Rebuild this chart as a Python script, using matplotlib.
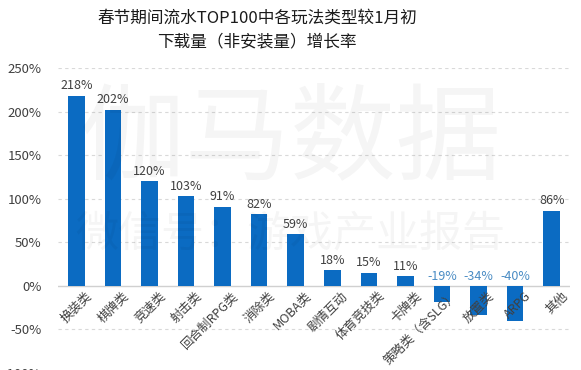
import matplotlib
matplotlib.use("Agg")
import matplotlib.pyplot as plt
import numpy as np

plt.rcParams['font.family'] = ['Noto Sans CJK SC', 'DejaVu Sans']

categories = ["换装类", "棋牌类", "竞速类", "射击类", "回合制RPG类", "消除类", "MOBA类",
              "剧情互动", "体育竞技类", "卡牌类", "策略类（含SLG）", "放置类", "ARPG", "其他"]
values = [218, 202, 120, 103, 91, 82, 59, 18, 15, 11, -19, -34, -40, 86]
yticks = [-100, -50, 0, 50, 100, 150, 200, 250]
title_lines = ["春节期间流水TOP100中各玩法类型较1月初", "下载量（非安装量）增长率"]

fig = plt.figure(figsize=(5.81, 3.70), dpi=100)
ax = fig.add_axes([58/581, 1-373/370, (570-58)/581, (373-68)/370])

n = len(categories)
x = np.arange(n)
bar_color = "#0B6BC2"
ax.bar(x, values, width=0.45, color=bar_color, zorder=3)

for xi, v in zip(x, values):
    if v >= 0:
        ax.text(xi, v + 4, f"{v}%", ha='center', va='bottom', fontsize=9, color="#404040", zorder=4)
    else:
        ax.text(xi, 3, f"{v}%", ha='center', va='bottom', fontsize=9, color="#4A8CC4", zorder=4)

# category labels placed just below zero line
for xi, c in zip(x, categories):
    ax.text(xi + 0.25, -4, c, rotation=45, ha='right', va='top', rotation_mode='anchor',
            fontsize=9, color="#404040", zorder=5)

ax.set_xlim(-0.5, n - 0.5)
ax.set_ylim(-100, 250)
ax.set_yticks(yticks)
ax.set_yticklabels([f"{t}%" for t in yticks], fontsize=9.5, color="#404040")
ax.tick_params(axis='y', length=0, pad=12)
ax.set_xticks([])

for t in yticks:
    if t != 0:
        ax.axhline(t, color="#d9d9d9", lw=0.8, ls=(0, (3, 3)), zorder=1)
ax.axhline(0, color="#d0d0d0", lw=1.0, zorder=2)

for s in ax.spines.values():
    s.set_visible(False)

# watermark
fig.text(0.5, 0.62, "伽马数据", fontsize=76, color="#000000", alpha=0.04,
         ha='center', va='center', zorder=0)
fig.text(0.5, 0.365, "微信号：游戏产业报告", fontsize=31, color="#000000", alpha=0.04,
         ha='center', va='center', zorder=0)

fig.text(257/581, 1 - 18/370, title_lines[0], ha='center', va='center', fontsize=12, color="#1a1a1a")
fig.text(257/581, 1 - 42/370, title_lines[1], ha='center', va='center', fontsize=12, color="#1a1a1a")

fig.savefig("out.png", dpi=100)
